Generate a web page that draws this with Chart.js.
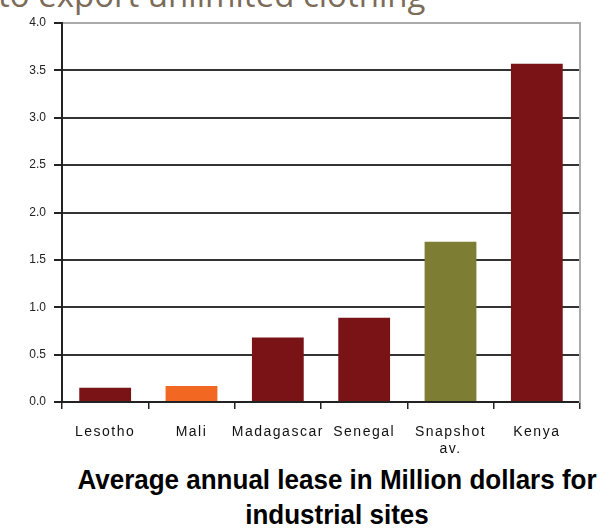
<!DOCTYPE html>
<html>
<head>
<meta charset="utf-8">
<script src="https://cdn.jsdelivr.net/npm/chart.js@4.4.0/dist/chart.umd.min.js"></script>
<style>
  body { margin: 0; background: #fff; }
  #wrap { position: relative; width: 604px; height: 530px; overflow: hidden; }
  #chart-box { position: absolute; left: 0; top: 0; width: 604px; height: 460px; }
  #top-text {
    position: absolute; left: -2px; top: -22px; white-space: nowrap;
    font: 33px "Open Sans", "DejaVu Sans", sans-serif; line-height: 33px; color: #7b6b59;
  }
  #caption {
    position: absolute; left: 337px; top: 462px; transform: translateX(-50%) scaleY(1.07);
    transform-origin: center top; text-align: center; white-space: nowrap;
    font: bold 26px "Liberation Sans", Arial, sans-serif; line-height: 33px; color: #000;
  }
</style>
</head>
<body>
<div id="wrap">
  <div id="top-text">to export unlimited clothing</div>
  <div id="chart-box"><canvas id="leaseChart"></canvas></div>
  <div id="caption">Average annual lease in Million dollars for<br>industrial sites</div>
</div>
<script>
// Daten
const countries = ["Lesotho", "Mali", "Madagascar", "Senegal", ["Snapshot", "av."], "Kenya"];
const leaseValues = [0.15, 0.17, 0.68, 0.89, 1.69, 3.57];
const barColors = ["#7a1315", "#f26722", "#7a1315", "#7a1315", "#7d7d33", "#7a1315"];
const yTicks = [0, 0.5, 1, 1.5, 2, 2.5, 3, 3.5, 4];

const font = "'Liberation Sans', Arial, sans-serif";

// x-Beschriftung etwas gesperrt zeichnen, wie im Original
function spreadLabels(scale) {
  if (scale._spread) return;
  scale._spread = true;
  const orig = scale.drawLabels;
  scale.drawLabels = function (area) {
    const c = this.ctx;
    c.save();
    c.letterSpacing = "1.5px";
    orig.call(this, area);
    c.restore();
  };
}

const ctx = document.getElementById("leaseChart").getContext("2d");
new Chart(ctx, {
  type: "bar",
  data: {
    labels: countries,
    datasets: [
      {
        data: leaseValues,
        backgroundColor: barColors,
        borderWidth: 0,
        barPercentage: 0.6,
        categoryPercentage: 1,
      },
    ],
  },
  options: {
    responsive: true,
    maintainAspectRatio: false,
    animation: false,
    layout: { padding: { left: 0, right: 24, top: 23, bottom: 0 } },
    plugins: { legend: { display: false }, tooltip: { enabled: false } },
    scales: {
      x: {
        offset: true,
        grid: {
          offset: true,
          drawOnChartArea: false,
          drawTicks: true,
          tickLength: 7,
          tickColor: "#222",
          lineWidth: 1.5,
        },
        border: { color: "#222", width: 2 },
        ticks: {
          color: "#111",
          font: { family: font, size: 14 },
          padding: 15,
          maxRotation: 0,
          autoSkip: false,
        },
        afterFit: (scale) => { scale.height = 58; },
        afterUpdate: spreadLabels,
      },
      y: {
        min: 0,
        max: 4,
        afterBuildTicks: (scale) => { scale.ticks = yTicks.map((v) => ({ value: v })); },
        grid: {
          color: (c) => (c.tick && c.tick.value === 4 ? "#aaa" : "#333"),
          lineWidth: 2,
          tickLength: 8,
          tickColor: "#222",
        },
        border: { color: "#222", width: 2 },
        ticks: {
          color: "#222",
          font: { family: font, size: 12 },
          padding: 8,
          callback: (v) => Number(v).toFixed(1),
        },
        afterFit: (scale) => { scale.width = 62; },
      },
      right: {
        position: "right",
        min: 0,
        max: 4,
        grid: { display: false },
        ticks: { display: false },
        border: { color: "#aaa", width: 2 },
        afterFit: (scale) => { scale.width = 0; },
      },
    },
  },
});
</script>
</body>
</html>
